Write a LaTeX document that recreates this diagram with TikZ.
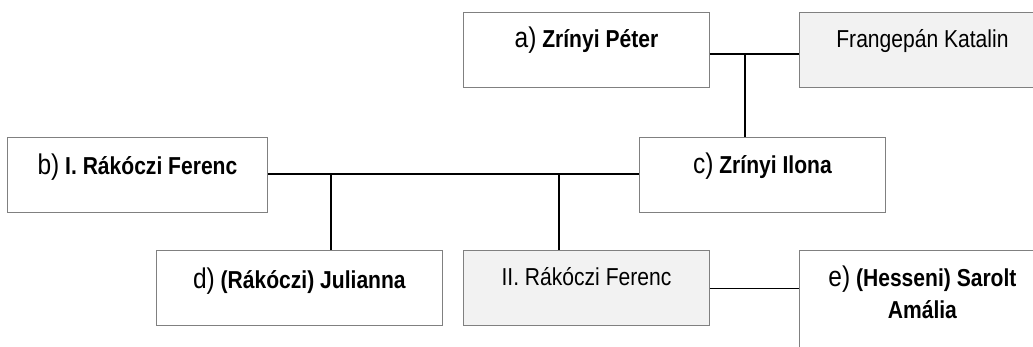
\documentclass[tikz,border=0pt]{standalone}
\usepackage{fontspec}
\setmainfont[FakeStretch=0.86]{Liberation Sans}
\definecolor{boxline}{HTML}{808080}
\definecolor{boxfill}{HTML}{F2F2F2}
\tikzset{
  box/.style={draw=boxline, line width=0.9pt, fill=white, minimum width=246pt, minimum height=75pt, inner sep=0pt, anchor=north west},
  grey/.style={fill=boxfill},
  lbl/.style={anchor=base, inner sep=0pt, font=\fontsize{24.5pt}{28pt}\selectfont},
  conn/.style={draw=black, line width=1.5pt}
}
\newcommand{\pre}[1]{{\fontsize{28.5pt}{32pt}\selectfont #1}}
\begin{document}
\begin{tikzpicture}[x=1pt,y=-1pt]
\useasboundingbox (0,0) rectangle (1033,347);
\clip (0,0) rectangle (1033,347);
% boxes
\node[box] (a) at (463,12) {};
\node[box,grey] (F) at (799,12) {};
\node[box] (c) at (639,137) {};
\node[box,minimum width=260pt] (b) at (7,137) {};
\node[box,minimum width=286pt] (d) at (156,250) {};
\node[box,grey] (II) at (463,250) {};
\node[box,minimum height=110pt] (e) at (799,250) {};
% labels
\node[lbl] (ta) at ([yshift=-36pt]a.north) {\pre{a)} \textbf{Zrínyi Péter}};
\node[lbl] (tF) at ([yshift=-36pt]F.north) {Frangepán Katalin};
\node[lbl] (tc) at ([yshift=-37pt]c.north) {\pre{c)} \textbf{Zrínyi Ilona}};
\node[lbl] (tb) at ([yshift=-38pt]b.north) {\pre{b)} \textbf{I. Rákóczi Ferenc}};
\node[lbl] (td) at ([yshift=-38pt]d.north) {\pre{d)} \textbf{(Rákóczi) Julianna}};
\node[lbl] (tII) at ([yshift=-36pt]II.north) {II. Rákóczi Ferenc};
\node[lbl] (te1) at ([yshift=-37pt]e.north) {\pre{e)} \textbf{(Hesseni) Sarolt}};
\node[lbl] (te2) at ([yshift=-68pt]e.north) {\textbf{Amália}};
% connectors
\coordinate (m1) at (745,54);
\coordinate (j1) at (331,174);
\coordinate (j2) at (559,174);
\draw[conn] (a.east |- m1) -- (F.west |- m1);
\draw[conn] (m1) -- (m1 |- c.north);
\draw[conn] (b.east |- j1) -- (c.west |- j1);
\draw[conn] (j1) -- (j1 |- d.north);
\draw[conn] (j2) -- (j2 |- II.north);
\draw[conn] ([yshift=-0.5pt]II.east) -- ([yshift=-0.5pt]II.east -| e.west);
\end{tikzpicture}
\end{document}
